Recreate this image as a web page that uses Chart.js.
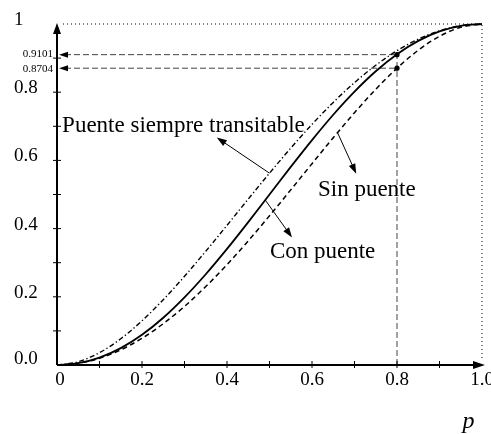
<!DOCTYPE html>
<html>
<head>
<meta charset="utf-8">
<script src="https://cdn.jsdelivr.net/npm/chart.js@4"></script>
<style>
  html, body { margin: 0; padding: 0; background: #fff; }
  canvas { display: block; }
</style>
</head>
<body>
<canvas id="chart" width="491" height="434"></canvas>
<script>
// values
const pValues   = [0, 0.05, 0.1, 0.15, 0.2, 0.25, 0.3, 0.35, 0.4, 0.45, 0.5, 0.55, 0.6, 0.65, 0.7, 0.75, 0.8, 0.85, 0.9, 0.95, 1];
const siempre   = [0, 0.0095, 0.0361, 0.077, 0.1296, 0.1914, 0.2601, 0.3335, 0.4096, 0.4865, 0.5625, 0.636, 0.7056, 0.77, 0.8281, 0.8789, 0.9216, 0.9555, 0.9801, 0.995, 1];
const conPuente = [0, 0.0052, 0.0215, 0.0494, 0.0886, 0.1387, 0.1984, 0.2662, 0.3405, 0.4191, 0.5, 0.5809, 0.6595, 0.7338, 0.8016, 0.8613, 0.9114, 0.9506, 0.9785, 0.9948, 1];
const sinPuente = [0, 0.005, 0.0199, 0.0445, 0.0784, 0.1211, 0.1719, 0.23, 0.2944, 0.364, 0.4375, 0.5135, 0.5904, 0.6665, 0.7399, 0.8086, 0.8704, 0.923, 0.9639, 0.9905, 1];

const xTickValues = [0, 0.1, 0.2, 0.3, 0.4, 0.5, 0.6, 0.7, 0.8, 0.9, 1];
const xLabelValues = [0, 0.2, 0.4, 0.6, 0.8, 1];
const xLabels = ['0', '0.2', '0.4', '0.6', '0.8', '1.0'];
const yLabelValues = [0, 0.2, 0.4, 0.6, 0.8, 1];
const yLabels = ['0.0', '0.2', '0.4', '0.6', '0.8', '1'];

const markP = 0.8;
const markValues = [0.9101, 0.8704];
const markLabels = ['0.9101', '0.8704'];

// annotations: text, text position, arrow start (on curve), arrow tip
const notes = [
  { text: 'Puente siempre transitable', at: [0.012, 0.684], from: [0.50, 0.5625], to: [0.376, 0.667] },
  { text: 'Sin puente', at: [0.614, 0.497], from: [0.66, 0.6815], to: [0.704, 0.561] },
  { text: 'Con puente', at: [0.501, 0.313], from: [0.49, 0.4838], to: [0.553, 0.374] }
];

const SERIF = '"Liberation Serif", "Times New Roman", serif';

function pts(ys) {
  return pValues.map((p, i) => ({ x: p, y: ys[i] }));
}

function head(ctx, x1, y1, x2, y2, len, hw) {
  const a = Math.atan2(y2 - y1, x2 - x1);
  ctx.beginPath();
  ctx.moveTo(x2, y2);
  ctx.lineTo(x2 - len * Math.cos(a) + hw * Math.sin(a), y2 - len * Math.sin(a) - hw * Math.cos(a));
  ctx.lineTo(x2 - len * Math.cos(a) - hw * Math.sin(a), y2 - len * Math.sin(a) + hw * Math.cos(a));
  ctx.closePath();
  ctx.fill();
}

const decor = {
  id: 'decor',
  beforeDatasetsDraw(chart) {
    const { ctx, scales: { x, y } } = chart;
    ctx.save();
    // dotted frame at 1
    ctx.strokeStyle = '#000';
    ctx.lineWidth = 1;
    ctx.setLineDash([1, 3]);
    ctx.beginPath();
    ctx.moveTo(x.getPixelForValue(0) + 6, y.getPixelForValue(1));
    ctx.lineTo(x.getPixelForValue(1), y.getPixelForValue(1));
    ctx.lineTo(x.getPixelForValue(1), y.getPixelForValue(0) - 4);
    ctx.stroke();
    // dashed guides
    ctx.strokeStyle = '#444';
    ctx.setLineDash([6, 3]);
    markValues.forEach(v => {
      ctx.beginPath();
      ctx.moveTo(x.getPixelForValue(0) + 8, y.getPixelForValue(v));
      ctx.lineTo(x.getPixelForValue(markP), y.getPixelForValue(v));
      ctx.stroke();
    });
    ctx.beginPath();
    ctx.moveTo(x.getPixelForValue(markP), y.getPixelForValue(0));
    ctx.lineTo(x.getPixelForValue(markP), y.getPixelForValue(markValues[0]));
    ctx.stroke();
    ctx.setLineDash([]);
    ctx.fillStyle = '#000';
    markValues.forEach((v, i) => {
      const py = y.getPixelForValue(v);
      head(ctx, x.getPixelForValue(0) + 20, py, x.getPixelForValue(0) + 2, py, 9, 3);
      ctx.beginPath();
      ctx.arc(x.getPixelForValue(markP), py, 2.6, 0, Math.PI * 2);
      ctx.fill();
      ctx.font = '11px ' + SERIF;
      ctx.textAlign = 'right';
      ctx.textBaseline = 'middle';
      ctx.fillText(markLabels[i], x.getPixelForValue(0) - 4, py + (i === 0 ? -1 : 1));
    });
    ctx.restore();
  },
  afterDatasetsDraw(chart) {
    const { ctx, scales: { x, y } } = chart;
    const x0 = x.getPixelForValue(0), y0 = y.getPixelForValue(0);
    const x1 = x.getPixelForValue(1), y1 = y.getPixelForValue(1);
    ctx.save();
    ctx.strokeStyle = '#000';
    ctx.fillStyle = '#000';
    // axes
    ctx.lineWidth = 2;
    ctx.beginPath();
    ctx.moveTo(x0, y0);
    ctx.lineTo(x1 - 6, y0);
    ctx.moveTo(x0, y0);
    ctx.lineTo(x0, y1 + 6);
    ctx.stroke();
    head(ctx, x0, y0, x1 + 3, y0, 12, 4);
    head(ctx, x0, y0, x0, y1 - 1, 11, 4);
    // ticks
    ctx.lineWidth = 1;
    ctx.beginPath();
    xTickValues.forEach(v => {
      if (v === 0 || v === 1) return;
      const px = x.getPixelForValue(v);
      ctx.moveTo(px, y0 - 4);
      ctx.lineTo(px, y0 + 3);
    });
    xTickValues.forEach(v => {
      if (v === 0 || v === 1) return;
      const py = y.getPixelForValue(v);
      ctx.moveTo(x0 - 4, py);
      ctx.lineTo(x0 + 4, py);
    });
    ctx.stroke();
    // tick labels
    ctx.font = '19px ' + SERIF;
    ctx.textAlign = 'center';
    ctx.textBaseline = 'middle';
    xLabelValues.forEach((v, i) => {
      ctx.fillText(xLabels[i], x.getPixelForValue(v) + (v === 0 ? 3 : 0), y0 + 15);
    });
    ctx.textAlign = 'left';
    yLabelValues.forEach((v, i) => {
      ctx.fillText(yLabels[i], 14, y.getPixelForValue(v) - (v === 0 ? 5.5 : 4));
    });
    // axis title
    ctx.font = 'italic 24px ' + SERIF;
    ctx.textAlign = 'center';
    ctx.textBaseline = 'alphabetic';
    ctx.fillText('p', x.getPixelForValue(0.968), y0 + 63);
    // annotations
    ctx.font = '23px ' + SERIF;
    ctx.textAlign = 'left';
    notes.forEach(n => {
      ctx.fillText(n.text, x.getPixelForValue(n.at[0]), y.getPixelForValue(n.at[1]));
      const fx = x.getPixelForValue(n.from[0]), fy = y.getPixelForValue(n.from[1]);
      const tx = x.getPixelForValue(n.to[0]), ty = y.getPixelForValue(n.to[1]);
      const a = Math.atan2(ty - fy, tx - fx);
      ctx.beginPath();
      ctx.moveTo(fx, fy);
      ctx.lineTo(tx - 8 * Math.cos(a), ty - 8 * Math.sin(a));
      ctx.stroke();
      head(ctx, fx, fy, tx, ty, 10, 3.5);
    });
    ctx.restore();
  }
};

new Chart(document.getElementById('chart'), {
  type: 'line',
  data: {
    datasets: [
      { label: 'Puente siempre transitable', data: pts(siempre), borderColor: '#000', borderWidth: 1.4, borderDash: [5, 2.5, 1.3, 2.5] },
      { label: 'Con puente', data: pts(conPuente), borderColor: '#000', borderWidth: 1.8 },
      { label: 'Sin puente', data: pts(sinPuente), borderColor: '#000', borderWidth: 1.5, borderDash: [5, 3.5] }
    ]
  },
  options: {
    responsive: false,
    animation: false,
    devicePixelRatio: 1,
    layout: { padding: { left: 57, right: 9, top: 24, bottom: 69 } },
    elements: { point: { radius: 0 }, line: { tension: 0, cubicInterpolationMode: 'monotone' } },
    clip: false,
    scales: {
      x: { type: 'linear', min: 0, max: 1, display: false },
      y: { type: 'linear', min: 0, max: 1, display: false }
    },
    plugins: { legend: { display: false }, tooltip: { enabled: false } }
  },
  plugins: [decor]
});
</script>
</body>
</html>
